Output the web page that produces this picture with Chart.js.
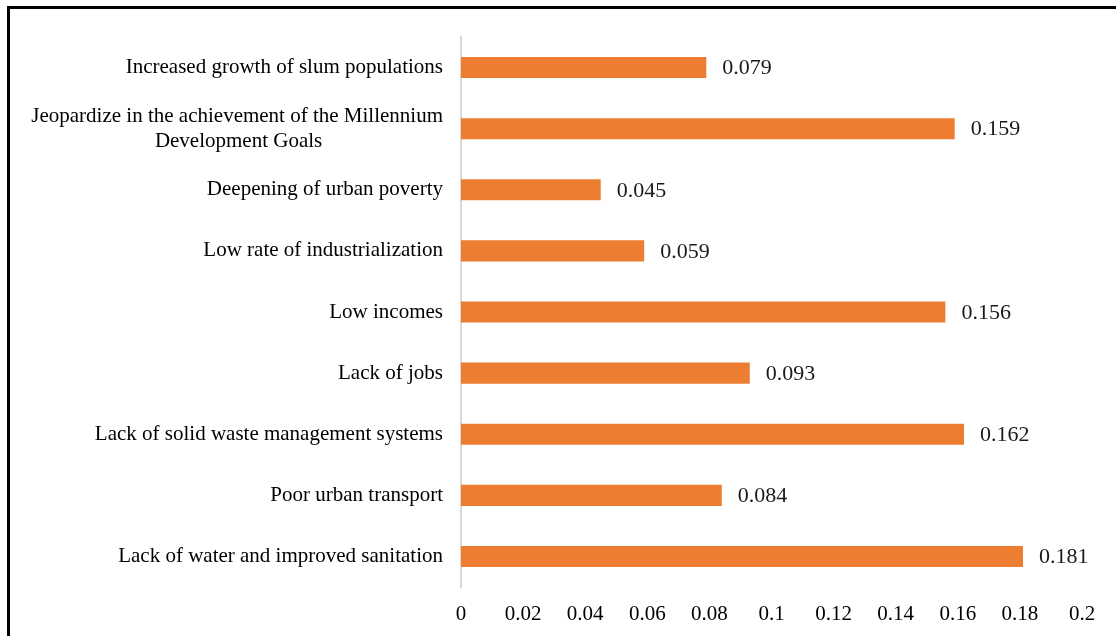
<!DOCTYPE html>
<html>
<head>
<meta charset="utf-8">
<script src="https://cdn.jsdelivr.net/npm/chart.js@4"></script>
<style>
  html, body { margin: 0; padding: 0; background: #fff; }
  #wrap { position: relative; width: 1116px; height: 636px; overflow: hidden; }
  #frame { position: absolute; left: 7px; top: 6px; width: 1200px; height: 700px;
           border: 3px solid #000; box-sizing: border-box; }
  canvas { position: absolute; left: 0; top: 0; }
</style>
</head>
<body>
<div id="wrap">
  <div id="frame"></div>
  <canvas id="myChart" width="1116" height="636"></canvas>
</div>
<script>
// Категории (сверху вниз)
const categories = [
    'Increased growth of slum populations',
    ['Jeopardize in the achievement of the Millennium', 'Development Goals'],
    'Deepening of urban poverty',
    'Low rate of industrialization',
    'Low incomes',
    'Lack of jobs',
    'Lack of solid waste management systems',
    'Poor urban transport',
    'Lack of water and improved sanitation'
];

// Значения
const values = [0.079, 0.159, 0.045, 0.059, 0.156, 0.093, 0.162, 0.084, 0.181];

// Подписи оси X
const xTicks = [0, 0.02, 0.04, 0.06, 0.08, 0.1, 0.12, 0.14, 0.16, 0.18, 0.2];

const fontFamily = '"Liberation Serif", "Times New Roman", serif';
const labelFont = '21px ' + fontFamily;

const ctx = document.getElementById('myChart').getContext('2d');

// Многострочные подписи центрируем: дополняем короткие строки пробелами справа
ctx.font = labelFont;
const spaceWidth = ctx.measureText('\u00A0').width;
const axisLabels = categories.map(label => {
    if (!Array.isArray(label)) return label;
    const widest = Math.max(...label.map(l => ctx.measureText(l).width));
    return label.map(l => {
        const n = Math.round((widest - ctx.measureText(l).width) / 2 / spaceWidth);
        return l + '\u00A0'.repeat(n);
    });
});

// Плагин для подписей значений у конца столбцов
const valueLabels = {
    id: 'valueLabels',
    afterDatasetsDraw(chart) {
        const c = chart.ctx;
        const meta = chart.getDatasetMeta(0);
        c.save();
        c.font = '22px ' + fontFamily;
        c.fillStyle = '#1a1a1a';
        c.textAlign = 'left';
        c.textBaseline = 'middle';
        meta.data.forEach((bar, i) => {
            c.fillText(String(values[i]), bar.x + 16, bar.y + 1);
        });
        c.restore();
    }
};

const myChart = new Chart(ctx, {
    type: 'bar',
    data: {
        labels: axisLabels,
        datasets: [{
            data: values,
            backgroundColor: '#ED7D31',
            borderWidth: 0,
            categoryPercentage: 1,
            barPercentage: 0.345
        }]
    },
    options: {
        indexAxis: 'y',
        responsive: false,
        animation: false,
        layout: { padding: { left: 0, top: 37, right: 34, bottom: 0 } },
        plugins: {
            legend: { display: false },
            tooltip: { enabled: false }
        },
        scales: {
            x: {
                min: 0,
                max: 0.2,
                afterBuildTicks: scale => { scale.ticks = xTicks.map(v => ({ value: v })); },
                afterFit: scale => { scale.height = 49; },
                grid: { display: false, drawTicks: false },
                border: { display: false },
                ticks: {
                    padding: 15,
                    color: '#000',
                    font: { family: fontFamily, size: 21 },
                    callback: v => String(+v.toFixed(2))
                }
            },
            y: {
                afterFit: scale => { scale.width = 461; },
                grid: { display: false, drawTicks: false },
                border: { display: true, color: '#d9d9d9', width: 2 },
                ticks: {
                    padding: 18,
                    color: '#000',
                    font: { family: fontFamily, size: 21, lineHeight: 1.2 }
                }
            }
        }
    },
    plugins: [valueLabels]
});
</script>
</body>
</html>
